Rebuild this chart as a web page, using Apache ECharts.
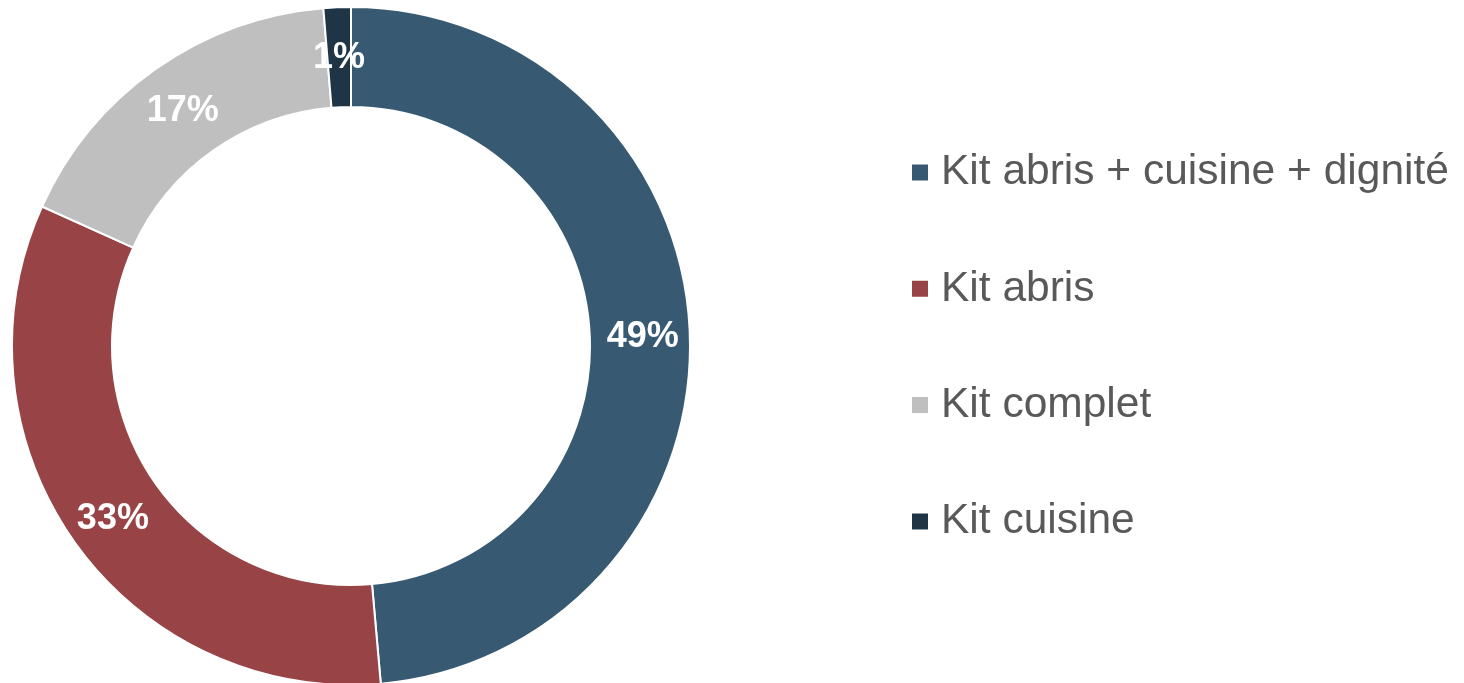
<!DOCTYPE html>
<html>
<head>
<meta charset="utf-8">
<script src="https://cdn.jsdelivr.net/npm/echarts@6/dist/echarts.min.js"></script>
<style>
html,body{margin:0;padding:0;background:#fff;}
#chart{width:1464px;height:683px;}
</style>
</head>
<body>
<div id="chart"></div>
<script>
const categories = ['Kit abris + cuisine + dignité', 'Kit abris', 'Kit complet', 'Kit cuisine'];
const values = [48.6, 33.15, 16.95, 1.3];
const colors = ['#375A72', '#984446', '#BFBFBF', '#1F3444'];

const chart = echarts.init(document.getElementById('chart'));
chart.setOption({
  animation: false,
  backgroundColor: '#ffffff',
  color: colors,
  legend: {
    orient: 'vertical',
    left: 905,
    top: 146,
    padding: 5,
    itemWidth: 18,
    itemHeight: 18,
    itemGap: 73.3,
    icon: 'rect',
    data: categories,
    textStyle: {
      fontFamily: 'Liberation Sans, Arial, sans-serif',
      fontSize: 42.5,
      color: '#595959',
      padding: [0, 0, 0, 7]
    }
  },
  series: [{
    type: 'pie',
    center: [351, 346],
    radius: [239, 339],
    startAngle: 90,
    clockwise: true,
    avoidLabelOverlap: false,
    itemStyle: { borderColor: '#ffffff', borderWidth: 2 },
    label: {
      show: true,
      position: 'inside',
      offset: [0, 4],
      formatter: p => Math.round(p.percent) + '%',
      color: '#ffffff',
      fontFamily: 'Liberation Sans, Arial, sans-serif',
      fontWeight: 'bold',
      fontSize: 36
    },
    labelLine: { show: false },
    emphasis: { disabled: true },
    data: categories.map((c, i) => ({ name: c, value: values[i] }))
  }]
});
</script>
</body>
</html>
